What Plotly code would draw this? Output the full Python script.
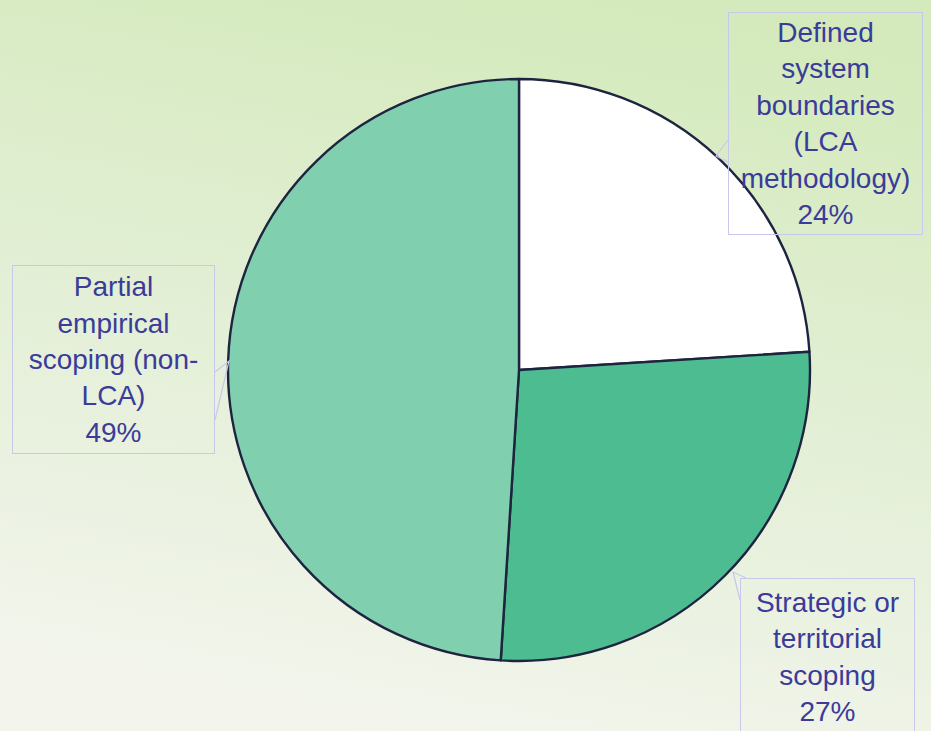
import base64
import plotly.graph_objects as go

# données
labels = [
    "Defined system boundaries (LCA methodology)",
    "Strategic or territorial scoping",
    "Partial empirical scoping (non-LCA)",
]
values = [24, 27, 49]
colors = ["#FFFFFF", "#4DBD91", "#80D0B0"]
label_texts = [
    "Defined<br>system<br>boundaries<br>(LCA<br>methodology)<br>24%",
    "Strategic or<br>territorial<br>scoping<br>27%",
    "Partial<br>empirical<br>scoping (non-<br>LCA)<br>49%",
]

W, H = 931, 731
text_color = "#3B3B9A"
box_color = "#C8C8EC"

# fond en dégradé (svg inline)
svg = f"""<svg xmlns='http://www.w3.org/2000/svg' width='{W}' height='{H}'>
<defs>
<linearGradient id='g' x1='0.62' y1='0' x2='0.38' y2='1'>
<stop offset='0' stop-color='#D4EABC'/>
<stop offset='0.5' stop-color='#E3EFD6'/>
<stop offset='1' stop-color='#F3F5ED'/>
</linearGradient>
</defs>
<rect width='100%' height='100%' fill='url(#g)'/>
</svg>"""
bg_src = "data:image/svg+xml;base64," + base64.b64encode(svg.encode()).decode()

fig = go.Figure()
fig.add_trace(
    go.Pie(
        labels=labels,
        values=values,
        sort=False,
        direction="clockwise",
        rotation=0,
        marker=dict(colors=colors, line=dict(color="#1E2440", width=2.4)),
        textinfo="none",
        hoverinfo="label+percent",
        showlegend=False,
        domain=dict(x=[228 / W, 810 / W], y=[1 - 661 / H, 1 - 79 / H]),
    )
)


def px_x(x):
    return x / W


def px_y(y):
    return 1 - y / H


# boîtes des étiquettes : (gauche, haut, largeur, hauteur, marge interne)
boxes = [
    (728, 10, 195, 223, 0),
    (740, 578, 175, 170, 8),
    (12, 263, 203, 189, 0),
]
for txt, (bx, by, bw, bh, pad) in zip(label_texts, boxes):
    fig.add_annotation(
        text=txt,
        xref="paper",
        yref="paper",
        x=px_x(bx),
        y=px_y(by),
        xanchor="left",
        yanchor="top",
        width=bw - 2 - 2 * pad,
        height=bh - 2 - 2 * pad,
        align="center",
        valign="top" if pad else "middle",
        yshift=0 if pad else -2,
        showarrow=False,
        borderwidth=1,
        bordercolor=box_color,
        borderpad=pad,
        font=dict(family="Liberation Sans, Arial", size=28, color=text_color),
    )

# petites flèches des bulles vers le camembert
pointers = [
    [(728, 140), (716, 156), (728, 162)],
    [(215, 372), (229, 361), (215, 420)],
    [(740, 600), (733, 572), (746, 578)],
]
for pts in pointers:
    path = "M " + " L ".join(f"{px_x(x)},{px_y(y)}" for x, y in pts)
    fig.add_shape(
        type="path",
        path=path,
        xref="paper",
        yref="paper",
        line=dict(color=box_color, width=1.2),
    )

fig.update_layout(
    width=W,
    height=H,
    margin=dict(l=0, r=0, t=0, b=0),
    paper_bgcolor="#E4F0D8",
    plot_bgcolor="rgba(0,0,0,0)",
    images=[
        dict(
            source=bg_src,
            xref="paper",
            yref="paper",
            x=0,
            y=1,
            sizex=1,
            sizey=1,
            sizing="stretch",
            xanchor="left",
            yanchor="top",
            layer="below",
        )
    ],
)

# pas de marge autour du graphique dans la page, pas de barre d'outils
fig.write_html(
    "out.html",
    config={"displayModeBar": False},
    post_script="document.body.style.margin='0';",
)
